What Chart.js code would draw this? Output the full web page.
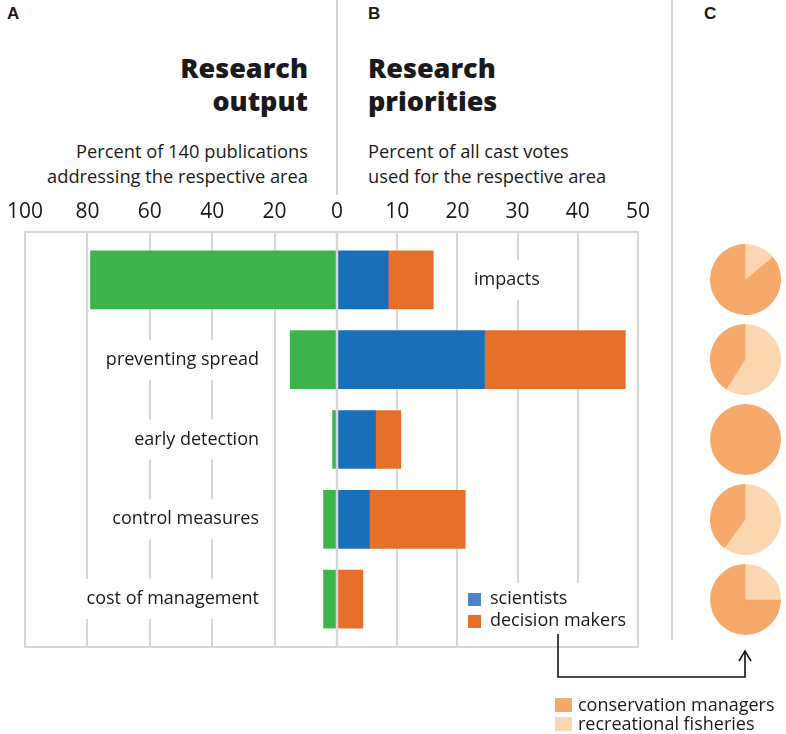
<!DOCTYPE html>
<html>
<head>
<meta charset="utf-8">
<script src="https://cdn.jsdelivr.net/npm/chart.js@4.4.0/dist/chart.umd.min.js"></script>
<style>
  body { margin: 0; background: #fff; }
  #wrap { position: relative; width: 786px; height: 734px; overflow: hidden; font-family: "Open Sans", sans-serif; color: #1a1a1a; }
  canvas.full { position: absolute; left: 0; top: 0; }
  canvas.pie { position: absolute; }
  .letter { position: absolute; top: 6px; font: bold 17px/16px "Liberation Sans", Arial, sans-serif; }
  .title { position: absolute; top: 51px; font-size: 27px; line-height: 33px; font-weight: 800; }
  .sub { position: absolute; top: 138px; font-size: 18.3px; line-height: 25px; }
  .sep { position: absolute; width: 2px; background: #d3d3d3; }
  .key { position: absolute; left: 555px; font-size: 18px; line-height: 19px; }
  .key span { display: inline-block; width: 17px; height: 14px; margin-right: 6px; vertical-align: -1px; }
</style>
</head>
<body>
<div id="wrap">
  <div class="sep" style="left:336px;top:0;height:195px"></div>
  <div class="sep" style="left:671px;top:0;height:640px"></div>

  <div class="letter" style="left:7px">A</div>
  <div class="letter" style="left:368px">B</div>
  <div class="letter" style="left:704px">C</div>

  <div class="title" style="right:478px;text-align:right">Research<br>output</div>
  <div class="title" style="left:368px">Research<br>priorities</div>
  <div class="sub" style="right:478px;text-align:right">Percent of 140 publications<br>addressing the respective area</div>
  <div class="sub" style="left:368px">Percent of all cast votes<br>used for the respective area</div>

  <canvas id="outputChart" class="full" width="786" height="734"></canvas>
  <canvas id="priorityChart" class="full" width="786" height="734"></canvas>

  <svg style="position:absolute;left:0;top:0" width="786" height="734">
    <path d="M558 634 V677 H745 V652" fill="none" stroke="#111" stroke-width="1.6"/>
    <path d="M739 661 L745 651 L751 661" fill="none" stroke="#111" stroke-width="1.6"/>
  </svg>

  <div class="key" style="top:695px"><span style="background:#f5a96b"></span>conservation managers</div>
  <div class="key" style="top:714px"><span style="background:#fcd6b1"></span>recreational fisheries</div>
</div>

<script>
// values
const categories = ['impacts', 'preventing spread', 'early detection', 'control measures', 'cost of management'];
const publicationShare = [79, 15, 1.4, 4.3, 4.3];        // % of 140 publications
const scientistVotes = [8.5, 24.5, 6.4, 5.4, 0];          // % of all cast votes
const decisionMakerVotes = [7.5, 23.4, 4.2, 15.9, 4.3];
const fisheriesShare = [14, 59, 0, 60, 25];               // pies, % of decision maker votes
const managersShare = [86, 41, 100, 40, 75];
const outputTicks = [100, 80, 60, 40, 20, 0];
const priorityTicks = [0, 10, 20, 30, 40, 50];

Chart.defaults.font.family = '"Open Sans", sans-serif';
Chart.defaults.color = '#1a1a1a';

const GRID = '#d6d6d6';
const points = vals => vals.map((v, i) => ({ x: v, y: i }));

/* frame, category labels with white boxes behind them */
const framePlugin = {
  id: 'frame',
  beforeDatasetsDraw(chart, args, opts) {
    const { ctx, chartArea: a, scales } = chart;
    ctx.save();
    ctx.strokeStyle = GRID;
    ctx.lineWidth = 2;
    ctx.strokeRect(a.left, a.top, a.right - a.left, a.bottom - a.top);
    ctx.font = '18px "Open Sans", sans-serif';
    ctx.textBaseline = 'middle';
    (opts.labels || []).forEach(l => {
      const y = scales.y.getPixelForValue(l.index);
      const text = categories[l.index];
      const w = ctx.measureText(text).width;
      const x0 = l.align === 'right' ? l.x - w : l.x;
      ctx.fillStyle = '#fff';
      ctx.fillRect(x0 - 6, y - 20, w + 12, 40);
      ctx.fillStyle = '#1a1a1a';
      ctx.textAlign = 'left';
      ctx.fillText(text, x0, y);
    });
    ctx.restore();
  },
  afterDatasetsDraw(chart, args, opts) {
    if (!opts.zeroLine) return;
    const { ctx, chartArea: a, scales } = chart;
    const x = scales.x.getPixelForValue(0);
    ctx.save();
    ctx.strokeStyle = GRID;
    ctx.lineWidth = 2.5;
    ctx.beginPath();
    ctx.moveTo(x, a.top);
    ctx.lineTo(x, a.bottom);
    ctx.stroke();
    // legend for the stacked bars
    if (opts.legend) {
      const lg = opts.legend;
      ctx.fillStyle = '#fff';
      ctx.fillRect(lg.x - 6, lg.y - 16, 172, a.bottom - lg.y + 15);
      ctx.font = '18px "Open Sans", sans-serif';
      ctx.textBaseline = 'middle';
      chart.data.datasets.forEach((ds, i) => {
        const yy = lg.y + i * 22;
        ctx.fillStyle = ds.legendColor || ds.backgroundColor;
        ctx.fillRect(lg.x, yy - 6, 13, 13);
        ctx.fillStyle = '#1a1a1a';
        ctx.fillText(ds.label, lg.x + 22, yy);
      });
    }
    ctx.restore();
  }
};

const yScale = { type: 'linear', min: -0.6, max: 4.6, reverse: true, offset: false, display: false };

function xScale(extra) {
  return Object.assign({
    type: 'linear',
    position: 'top',
    grid: { color: GRID, lineWidth: 2, drawTicks: false },
    border: { display: false },
    afterFit: s => { s.height = 32; },
    afterBuildTicks: s => { s.ticks = s.options.tickValues.map(v => ({ value: v })); }
  }, extra);
}

new Chart(document.getElementById('outputChart'), {
  type: 'bar',
  data: {
    datasets: [{
      label: 'research output',
      data: points(publicationShare),
      backgroundColor: '#3cb44b',
      barThickness: 58
    }]
  },
  options: {
    indexAxis: 'y',
    responsive: false,
    animation: false,
    layout: { padding: { left: 22, right: 449, top: 200, bottom: 87 } },
    scales: {
      x: xScale({
        reverse: true, min: 0, max: 100, tickValues: outputTicks,
        ticks: { padding: 7, font: { size: 21 } }
      }),
      y: yScale
    },
    plugins: {
      legend: { display: false },
      tooltip: { enabled: false },
      frame: {
        labels: [1, 2, 3, 4].map(i => ({ index: i, x: 259, align: 'right' }))
      }
    }
  },
  plugins: [framePlugin]
});

const priorityChart = new Chart(document.getElementById('priorityChart'), {
  type: 'bar',
  data: {
    datasets: [
      { label: 'scientists', data: points(scientistVotes), backgroundColor: '#1a6fba', legendColor: '#4b86c6', barThickness: 58 },
      { label: 'decision makers', data: points(decisionMakerVotes), backgroundColor: '#e6702a', barThickness: 58 }
    ]
  },
  options: {
    indexAxis: 'y',
    responsive: false,
    animation: false,
    layout: { padding: { left: 337, right: 148, top: 200, bottom: 87 } },
    scales: {
      x: xScale({
        stacked: true, min: 0, max: 50, tickValues: priorityTicks,
        ticks: { padding: 7, font: { size: 21 }, callback: v => (v === 0 ? '' : v) }
      }),
      y: Object.assign({ stacked: true }, yScale)
    },
    plugins: {
      legend: { display: false },
      tooltip: { enabled: false },
      frame: {
        labels: [{ index: 0, x: 474, align: 'left' }],
        zeroLine: true,
        legend: { x: 468, y: 599 }
      }
    }
  },
  plugins: [framePlugin]
});

/* panel C: one pie per research area, centred on its bar */
const wrap = document.getElementById('wrap');
const ys = priorityChart.scales.y;
categories.forEach((c, i) => {
  const cv = document.createElement('canvas');
  cv.className = 'pie';
  cv.width = 71;
  cv.height = 71;
  cv.style.left = (745 - 35.5) + 'px';
  cv.style.top = (ys.getPixelForValue(i) - 35.5) + 'px';
  wrap.appendChild(cv);
  new Chart(cv, {
    type: 'pie',
    data: {
      labels: ['recreational fisheries', 'conservation managers'],
      datasets: [{
        data: [fisheriesShare[i], managersShare[i]],
        backgroundColor: ['#fcd6b1', '#f5a96b'],
        borderWidth: 0
      }]
    },
    options: {
      responsive: false,
      animation: false,
      plugins: { legend: { display: false }, tooltip: { enabled: false } }
    }
  });
});
</script>
</body>
</html>
